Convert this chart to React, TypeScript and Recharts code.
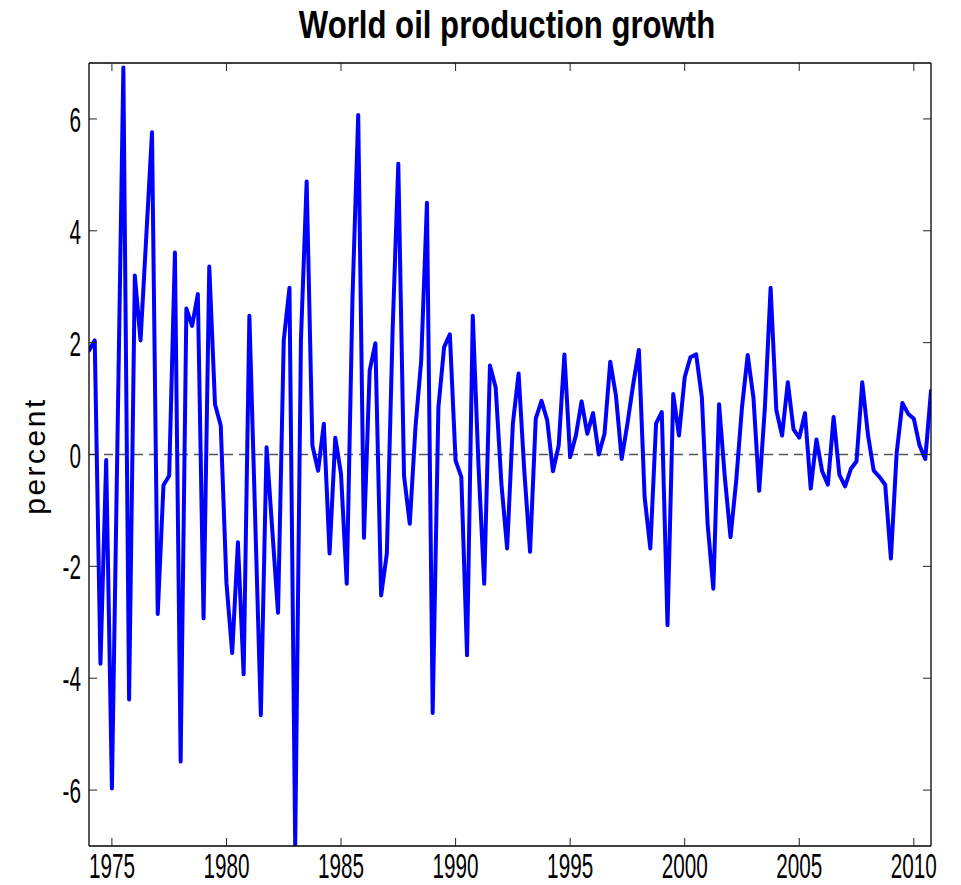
import React from 'react';
import { LineChart, Line, XAxis, YAxis, ReferenceLine } from 'recharts';

const START_YEAR = 1974;
const QUARTERS_PER_YEAR = 4;

// Quarterly world oil production growth, percent (1974Q1 .. 2010Q4)
const growth: number[] = [
  1.86, 2.04, -3.74, -0.10, -5.97, 0.45, 6.92, -4.38, 3.20, 2.04,
  3.90, 5.76, -2.85, -0.55, -0.38, 3.61, -5.49, 2.61, 2.30, 2.87,
  -2.93, 3.36, 0.90, 0.52, -2.30, -3.55, -1.57, -3.93, 2.48, -1.10,
  -4.66, 0.13, -1.35, -2.83, 2.04, 2.98, -7.00, 2.04, 4.88, 0.16,
  -0.29, 0.55, -1.77, 0.30, -0.35, -2.31, 2.80, 6.07, -1.49, 1.50,
  1.99, -2.52, -1.77, 2.20, 5.20, -0.38, -1.24, 0.49, 1.68, 4.50,
  -4.62, 0.84, 1.92, 2.15, -0.11, -0.40, -3.59, 2.48, -0.20, -2.31,
  1.59, 1.20, -0.52, -1.68, 0.55, 1.45, -0.30, -1.74, 0.64, 0.96,
  0.61, -0.30, 0.16, 1.79, -0.05, 0.34, 0.95, 0.37, 0.74, 0.00,
  0.37, 1.66, 1.05, -0.08, 0.55, 1.25, 1.87, -0.76, -1.68, 0.55,
  0.76, -3.05, 1.08, 0.34, 1.38, 1.74, 1.79, 1.02, -1.24, -2.40,
  0.90, -0.40, -1.48, -0.46, 0.84, 1.78, 1.02, -0.65, 0.84, 2.98,
  0.79, 0.34, 1.29, 0.45, 0.30, 0.74, -0.61, 0.27, -0.30, -0.54,
  0.67, -0.36, -0.57, -0.26, -0.12, 1.29, 0.35, -0.29, -0.40, -0.54,
  -1.86, 0.02, 0.92, 0.73, 0.64, 0.16, -0.08, 1.14,
];

const xTicks: number[] = [1975, 1980, 1985, 1990, 1995, 2000, 2005, 2010];
const yTicks: number[] = [-6, -4, -2, 0, 2, 4, 6];
const xDomain: [number, number] = [1974, 2010.75];
const yDomain: [number, number] = [-7, 7];

const TITLE = 'World oil production growth';
const Y_LABEL = 'percent';

const data = growth.map((v, i) => ({ t: START_YEAR + i / QUARTERS_PER_YEAR, v }));

const FONT = '"Liberation Sans", Arial, Helvetica, sans-serif';
const TICK_LEN = 8;
const TICK_FONT = 36;
const TICK_SCALE = 0.575;

const BottomTick = (props: any) => {
  const { x, y, payload } = props;
  return (
    <g>
      <line x1={x} x2={x} y1={y} y2={y - TICK_LEN} stroke="#222" strokeWidth={1} />
      <text
        transform={`translate(${x},${y + 32}) scale(${TICK_SCALE},1)`}
        textAnchor="middle"
        fontSize={TICK_FONT}
        fontFamily={FONT}
        fill="#000"
      >
        {payload.value}
      </text>
    </g>
  );
};

const TopTick = (props: any) => {
  const { x, y } = props;
  return <line x1={x} x2={x} y1={y} y2={y + TICK_LEN} stroke="#222" strokeWidth={1} />;
};

const LeftTick = (props: any) => {
  const { x, y, payload } = props;
  return (
    <g>
      <line x1={x} x2={x + TICK_LEN} y1={y} y2={y} stroke="#222" strokeWidth={1} />
      <text
        transform={`translate(${x - 8},${y + 13}) scale(${TICK_SCALE},1)`}
        textAnchor="end"
        fontSize={TICK_FONT}
        fontFamily={FONT}
        fill="#000"
      >
        {payload.value}
      </text>
    </g>
  );
};

const RightTick = (props: any) => {
  const { x, y } = props;
  return <line x1={x} x2={x - TICK_LEN} y1={y} y2={y} stroke="#222" strokeWidth={1} />;
};

export default function App() {
  return (
    <div style={{ position: 'absolute', left: 0, top: 0, width: 961, height: 885, background: '#fff' }}>
      <LineChart
        width={961}
        height={885}
        data={data}
        margin={{ top: 62, right: 29, bottom: 9, left: 0 }}
      >
        <XAxis
          xAxisId="b"
          dataKey="t"
          type="number"
          domain={xDomain}
          ticks={xTicks}
          interval={0}
          allowDataOverflow
          height={30}
          tickSize={0}
          tickMargin={0}
          tickLine={false}
          tick={BottomTick}
          axisLine={{ stroke: '#000', strokeWidth: 1.3 }}
        />
        <XAxis
          xAxisId="t"
          orientation="top"
          dataKey="t"
          type="number"
          domain={xDomain}
          ticks={xTicks}
          interval={0}
          allowDataOverflow
          height={1}
          tickSize={0}
          tickMargin={0}
          tickLine={false}
          tick={TopTick}
          axisLine={{ stroke: '#000', strokeWidth: 1.3 }}
        />
        <YAxis
          yAxisId="l"
          type="number"
          domain={yDomain}
          ticks={yTicks}
          interval={0}
          allowDataOverflow
          width={89}
          tickSize={0}
          tickMargin={0}
          tickLine={false}
          tick={LeftTick}
          axisLine={{ stroke: '#000', strokeWidth: 1.3 }}
        />
        <YAxis
          yAxisId="r"
          orientation="right"
          type="number"
          domain={yDomain}
          ticks={yTicks}
          interval={0}
          allowDataOverflow
          width={1}
          tickSize={0}
          tickMargin={0}
          tickLine={false}
          tick={RightTick}
          axisLine={{ stroke: '#000', strokeWidth: 1.3 }}
        />
        <ReferenceLine
          xAxisId="b"
          yAxisId="l"
          y={0}
          stroke="#555"
          strokeWidth={1.3}
          strokeDasharray="9 6"
        />
        <Line
          xAxisId="b"
          yAxisId="l"
          type="linear"
          dataKey="v"
          stroke="#0000ff"
          strokeWidth={4}
          strokeLinejoin="round"
          strokeLinecap="round"
          dot={false}
          activeDot={false}
          isAnimationActive={false}
        />
      </LineChart>
      <svg
        width={961}
        height={885}
        style={{ position: 'absolute', left: 0, top: 0, pointerEvents: 'none' }}
      >
        <text
          transform="translate(507,38) scale(0.82,1)"
          textAnchor="middle"
          fontSize={38}
          fontWeight="bold"
          fontFamily={FONT}
          fill="#000"
        >
          {TITLE}
        </text>
        <text
          transform="translate(45,456) rotate(-90)"
          textAnchor="middle"
          fontSize={30}
          letterSpacing={2.5}
          fontFamily={FONT}
          fill="#000"
        >
          {Y_LABEL}
        </text>
      </svg>
    </div>
  );
}
